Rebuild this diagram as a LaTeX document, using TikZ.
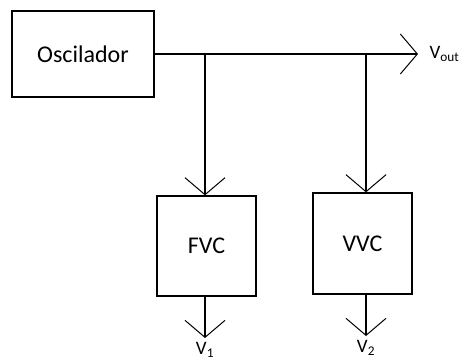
\documentclass[tikz,border=0pt]{standalone}
\usepackage{fontspec}
\setmainfont{Carlito}
\usetikzlibrary{arrows.meta,positioning}

\begin{document}
\begin{tikzpicture}[x=1pt,y=-1pt,
	line width=1.3pt,
	font=\fontsize{24}{27}\selectfont,
	block/.style={draw,rectangle,inner sep=0pt},
	sig/.style={-{Straight Barb[length=17pt,width=40pt,line width=1pt]}},
	lbl/.style={font=\fontsize{19}{21}\selectfont,inner sep=1pt}]

  \useasboundingbox (0,0) rectangle (467,362);

  \node [block, minimum width=142pt, minimum height=86pt] (osc) at (83,54) {Oscilador};
  \node [block, minimum width=99pt, minimum height=100pt] (fvc) at (206.5,246) {FVC};
  \node [block, minimum width=99pt, minimum height=101pt] (vvc) at (362.5,243.5) {VVC};

  \coordinate (j1) at (205,54);
  \coordinate (j2) at (366,54);
  \coordinate (out) at (418,54);
  \coordinate (v1) at (205,338);
  \coordinate (v2) at (366,336);

  \node [lbl, right=10pt of out] (vout) {V\textsubscript{out}};
  \node [lbl, below=3pt of v1] (v1l) {V\textsubscript{1}};
  \node [lbl, below=3pt of v2] (v2l) {V\textsubscript{2}};

  \draw [sig] (osc.east) -- (out);
  \draw [sig] (j1) -- (j1 |- fvc.north);
  \draw [sig] (j2) -- (j2 |- vvc.north);
  \draw [sig] (fvc.south -| j1) -- (v1);
  \draw [sig] (vvc.south -| j2) -- (v2);

\end{tikzpicture}
\end{document}
